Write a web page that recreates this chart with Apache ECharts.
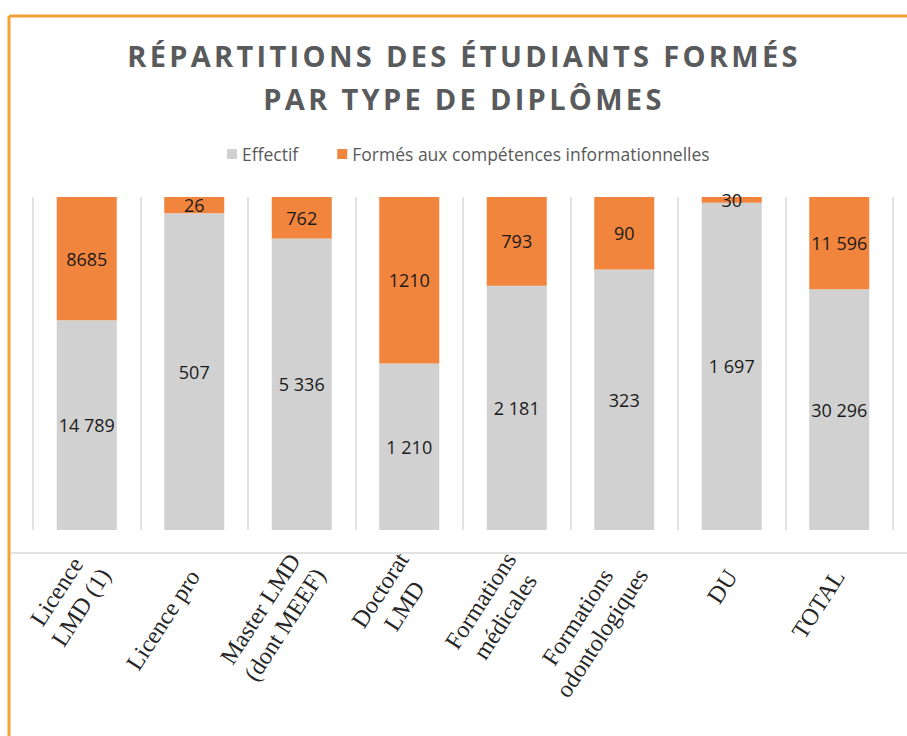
<!DOCTYPE html>
<html>
<head>
<meta charset="utf-8">
<script src="https://cdn.jsdelivr.net/npm/echarts@6/dist/echarts.min.js"></script>
<title>Répartitions des étudiants formés</title>
<style>
  html, body { margin: 0; padding: 0; background: #fff; }
  #main { width: 907px; height: 736px; }
  /* espacement des lettres du titre (rendu SVG) */
  #main text[style*="29px"], #main tspan[style*="29px"] { letter-spacing: 3.3px; }
</style>
</head>
<body>
<div id="main"></div>
<script>
// données
var categories = ['Licence\nLMD (1)', 'Licence pro', 'Master LMD\n(dont MEEF)', 'Doctorat\nLMD',
    'Formations\nmédicales', 'Formations\nodontologiques', 'DU', 'TOTAL'];
var effectif = [14789, 507, 5336, 1210, 2181, 323, 1697, 30296];
var formes = [8685, 26, 762, 1210, 793, 90, 30, 11596];
var effectifLabels = ['14 789', '507', '5 336', '1 210', '2 181', '323', '1 697', '30 296'];
var formesLabels = ['8685', '26', '762', '1210', '793', '90', '30', '11 596'];

// parts en % (barres empilées à 100 %)
var effectifPct = effectif.map(function (v, i) { return v / (v + formes[i]) * 100; });
var formesPct = formes.map(function (v, i) { return v / (effectif[i] + v) * 100; });

// les libellés sur une ligne sont un peu décalés vers le bas, comme dans Excel
var axisData = categories.map(function (c) {
    if (c.indexOf('\n') < 0) {
        return { value: c, textStyle: { padding: [14, 11, 0, 0] } };
    }
    return c;
});

var myChart = echarts.init(document.getElementById('main'), null, { renderer: 'svg' });

var barLabel = {
    show: true,
    position: 'inside',
    fontFamily: 'Open Sans',
    fontSize: 18,
    color: '#1a1a1a'
};

var option = {
    backgroundColor: '#fff',
    animation: false,
    title: {
        text: 'RÉPARTITIONS DES ÉTUDIANTS FORMÉS\nPAR TYPE DE DIPLÔMES',
        left: 464,
        top: 34,
        padding: 0,
        textAlign: 'center',
        textStyle: {
            fontFamily: 'Open Sans',
            fontWeight: 'bold',
            fontSize: 29,
            lineHeight: 43,
            color: '#585a5b'
        }
    },
    legend: {
        top: 140,
        left: 222,
        icon: 'rect',
        itemWidth: 10,
        itemHeight: 10,
        itemGap: 39,
        textStyle: { fontFamily: 'Open Sans', fontSize: 17.5, color: '#595959' }
    },
    grid: { left: 33, right: 14, top: 197, bottom: 206 },
    xAxis: {
        type: 'category',
        data: axisData,
        axisLine: { show: false },
        axisTick: { show: false },
        splitLine: { show: true, interval: 0, lineStyle: { color: '#d9d9d9', width: 1.5 } },
        axisLabel: {
            interval: 0,
            rotate: 57,
            margin: 29,
            padding: [14, 0, 0, 0],
            formatter: function (v) {
                return v.split('\n').map(function (s) { return '{c|' + s + '}'; }).join('\n');
            },
            rich: {
                c: { fontFamily: 'Liberation Serif', fontSize: 24, lineHeight: 29, color: '#262626', align: 'center' }
            }
        }
    },
    yAxis: { type: 'value', min: 0, max: 100, show: false },
    // cadre orange et ligne de l'axe
    graphic: [
        { type: 'line', shape: { x1: 9, y1: 16, x2: 907, y2: 16 }, style: { stroke: '#f6a136', lineWidth: 3 } },
        { type: 'line', shape: { x1: 9, y1: 16, x2: 9, y2: 736 }, style: { stroke: '#f6a136', lineWidth: 3 } },
        { type: 'line', shape: { x1: 11, y1: 553, x2: 907, y2: 553 }, style: { stroke: '#d9d9d9', lineWidth: 1.5 } }
    ],
    series: [{
        name: 'Effectif',
        type: 'bar',
        stack: 'total',
        barWidth: 60,
        itemStyle: { color: '#d1d1d1' },
        label: Object.assign({}, barLabel, { formatter: function (p) { return effectifLabels[p.dataIndex]; } }),
        data: effectifPct
    }, {
        name: 'Formés aux compétences informationnelles',
        type: 'bar',
        stack: 'total',
        barWidth: 60,
        itemStyle: { color: '#f2853d' },
        label: Object.assign({}, barLabel, { formatter: function (p) { return formesLabels[p.dataIndex]; } }),
        data: formesPct
    }]
};

myChart.setOption(option);
</script>
</body>
</html>
